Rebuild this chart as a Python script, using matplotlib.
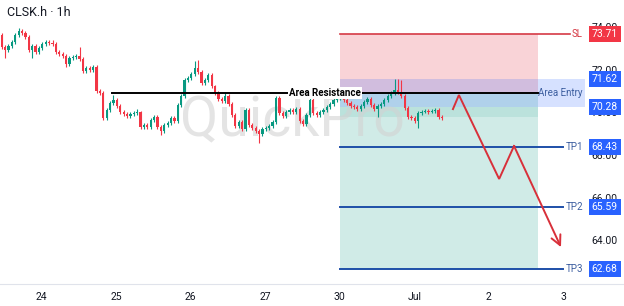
"""
CLSK.h 1h chart with short setup: SL, entry area, three take-profit levels.
Writes: out.png
"""
import matplotlib
matplotlib.use("Agg")
import matplotlib.pyplot as plt
import matplotlib.transforms as mtransforms
from matplotlib.patches import Rectangle

plt.rcParams['font.family'] = ['Roboto', 'DejaVu Sans']

TITLE = "CLSK.h · 1h"
DAY_LABELS = ["24", "25", "26", "27", "30", "Jul", "2", "3"]

# hourly candles, open of each bar = previous close
FIRST_OPEN = 73.68
CLOSES = [
    73.11, 72.97, 73.16, 73.35, 73.68, 73.86, 73.77, 73.58, 72.97, 73.16,
    72.88, 73.07, 73.25, 73.35, 73.30, 73.25, 72.88, 72.79, 72.69, 72.32,
    72.60, 72.64, 72.69, 72.55, 71.99, 72.13, 72.03, 72.18, 71.05, 70.95,
    69.78, 70.16, 70.48, 70.63, 70.34, 70.06, 69.97, 69.87, 69.97, 70.02,
    70.04, 69.36, 69.45, 69.36, 69.69, 69.83, 69.36, 69.17, 69.45, 69.55,
    69.78, 69.64, 70.39, 70.81, 71.56, 71.66, 71.85, 72.13, 71.94, 71.42,
    71.56, 71.80, 71.28, 70.95, 70.67, 70.58, 70.81, 70.44, 69.92, 69.40,
    69.59, 69.26, 70.16, 69.45, 69.31, 69.17, 69.03, 69.26, 69.31, 69.40,
    69.59, 70.72, 70.02, 69.87, 70.06, 70.16, 70.06, 70.20, 69.64, 69.50,
    69.92, 70.63, 70.02, 69.92, 70.06, 70.16, 70.30, 70.44, 70.63, 70.72,
    70.91, 70.63, 70.48, 70.34, 70.30, 70.20, 70.34, 70.53, 70.67, 70.39,
    70.20, 70.34, 70.44, 70.63, 70.81, 70.95, 71.09, 71.00, 70.81, 70.25,
    69.83, 69.78, 69.64, 70.02, 70.06, 70.11, 70.06, 70.11, 70.16, 69.83,
    69.78,
]
HIGHS = [
    73.77, 73.21, 73.25, 73.44, 73.77, 74.01, 73.96, 73.86, 73.68, 73.25,
    73.25, 73.16, 73.35, 73.44, 73.44, 73.44, 73.35, 72.97, 72.88, 72.79,
    72.69, 72.74, 72.79, 73.11, 72.64, 72.22, 72.22, 72.27, 72.27, 71.14,
    71.05, 70.25, 70.58, 70.86, 70.72, 70.44, 70.16, 70.06, 70.06, 70.11,
    70.20, 70.11, 69.55, 69.55, 69.78, 69.92, 69.92, 69.45, 69.55, 69.64,
    69.87, 69.87, 70.48, 70.91, 71.66, 71.75, 71.94, 72.46, 72.50, 72.03,
    71.66, 71.89, 71.89, 71.33, 71.05, 70.77, 70.95, 70.91, 70.53, 70.02,
    69.69, 69.69, 70.25, 70.25, 69.55, 69.40, 69.26, 69.36, 69.40, 69.50,
    69.69, 70.81, 70.81, 70.11, 70.16, 70.25, 70.25, 70.30, 70.30, 69.73,
    70.02, 70.72, 70.72, 70.11, 70.16, 70.25, 70.39, 70.53, 70.72, 70.81,
    71.00, 71.00, 70.72, 70.58, 70.44, 70.39, 70.44, 70.63, 70.77, 70.77,
    70.48, 70.44, 70.53, 70.72, 70.91, 71.05, 71.61, 71.61, 71.56, 70.91,
    70.34, 69.92, 69.87, 70.11, 70.16, 70.20, 70.20, 70.20, 70.25, 70.25,
    69.92,
]
LOWS = [
    73.02, 72.60, 72.88, 73.07, 73.25, 73.58, 73.68, 73.49, 72.88, 72.60,
    72.79, 72.79, 72.97, 73.16, 73.21, 73.16, 72.79, 72.69, 72.60, 72.18,
    72.22, 72.50, 72.55, 72.46, 71.89, 71.89, 71.94, 71.94, 70.95, 70.86,
    69.69, 69.69, 70.06, 70.39, 70.25, 69.97, 69.87, 69.78, 69.78, 69.87,
    69.92, 69.26, 69.26, 69.26, 69.26, 69.59, 69.26, 68.98, 69.08, 69.36,
    69.45, 69.55, 69.55, 70.30, 70.72, 71.47, 71.56, 71.75, 71.85, 71.33,
    71.33, 71.47, 71.19, 70.86, 70.58, 70.48, 70.48, 70.34, 69.83, 69.31,
    69.31, 69.17, 69.17, 69.36, 69.22, 69.08, 68.61, 68.94, 69.17, 69.22,
    69.31, 69.50, 69.92, 69.78, 69.78, 69.97, 69.97, 69.97, 69.55, 69.40,
    69.40, 69.83, 69.92, 69.83, 69.83, 69.97, 70.06, 70.20, 70.34, 70.53,
    70.63, 70.53, 70.39, 70.25, 70.20, 70.11, 70.11, 70.25, 70.44, 70.30,
    70.11, 69.83, 70.25, 70.34, 70.53, 70.72, 70.86, 70.91, 70.72, 70.16,
    69.73, 69.69, 69.55, 69.31, 69.92, 70.02, 69.97, 70.02, 70.02, 69.73,
    69.69,
]

SL = 73.71
ENTRY_HIGH = 71.62
ENTRY_LOW = 70.28
RESISTANCE = 70.94
TP_LEVELS = [68.43, 65.59, 62.68]
TP_NAMES = ["TP1", "TP2", "TP3"]
AXIS_PRICES = [74, 72, 70, 68, 66, 64]

# projected path (day, price)
PATH_DAYS = [5.52, 5.60, 6.14, 6.34]
PATH_PRICES = [70.20, 70.86, 66.92, 68.47]
ARROW_TIP_DAY = 6.97
ARROW_TIP_PRICE = 63.72

# layout
FIRST_BAR_DAY = -0.537
BARS_PER_DAY = 22
RES_START = 0.945
BOX_START = 4.0
BOX_END = 6.66
ENTRY_END = 7.29
LINE_END = 7.0
LABEL_X = 7.265

GREEN = "#089981"
RED = "#f23645"
BLUE = "#2962ff"
LINE_BLUE = "#1e4fa8"
SL_RED = "#d63a45"


def main():
    fig = plt.figure(figsize=(6.24, 3.06), dpi=100)
    ax = fig.add_axes([0, 22 / 306, 1, 284 / 306])
    ax.set_xlim(-0.560, 7.816)
    ax.set_ylim(61.99, 75.32)

    # watermark, above the boxes but below the candles
    ax.text(3.36, 69.7, "QuickPro", fontsize=40, color="#d2d2d2", alpha=0.6,
            ha="center", va="center", zorder=2)

    # position boxes
    ax.add_patch(Rectangle((BOX_START, RESISTANCE), BOX_END - BOX_START, SL - RESISTANCE,
                           facecolor="#f9d3d7", edgecolor="none", zorder=1))
    ax.add_patch(Rectangle((BOX_START, TP_LEVELS[-1]), BOX_END - BOX_START,
                           RESISTANCE - TP_LEVELS[-1],
                           facecolor="#d0ebe7", edgecolor="none", zorder=1))
    ax.add_patch(Rectangle((BOX_START, 69.83), BOX_END - BOX_START, ENTRY_LOW - 69.83,
                           facecolor="#089981", alpha=0.10, edgecolor="none", zorder=1.2))
    ax.add_patch(Rectangle((BOX_START, ENTRY_LOW), ENTRY_END - BOX_START,
                           ENTRY_HIGH - ENTRY_LOW,
                           facecolor=BLUE, alpha=0.19, edgecolor="none", zorder=1.5))

    # candles
    opens = [FIRST_OPEN] + CLOSES[:-1]
    for i, (o, c, h, l) in enumerate(zip(opens, CLOSES, HIGHS, LOWS)):
        x = FIRST_BAR_DAY + i / BARS_PER_DAY
        col = GREEN if c >= o else RED
        ax.plot([x, x], [l, h], color=col, lw=0.8, zorder=3, solid_capstyle="butt")
        bottom = min(o, c)
        height = max(abs(c - o), 0.03)
        ax.add_patch(Rectangle((x - 0.015, bottom), 0.03, height,
                               facecolor=col, edgecolor="none", zorder=3.5))

    # resistance line
    ax.plot([RES_START, BOX_END], [RESISTANCE, RESISTANCE], color="black", lw=1.4, zorder=4)
    ax.text(3.8, RESISTANCE, "Area Resistance", fontsize=7, fontweight="bold",
            ha="center", va="center", zorder=5,
            bbox=dict(facecolor="white", edgecolor="none", pad=0.6))

    # SL / TP lines
    ax.plot([BOX_START, 7.09], [SL, SL], color=SL_RED, lw=1.2, zorder=4)
    ax.text(LABEL_X, SL, "SL", fontsize=7, color=SL_RED, ha="right", va="center", zorder=5)
    for lvl, name in zip(TP_LEVELS, TP_NAMES):
        ax.plot([BOX_START, LINE_END], [lvl, lvl], color=LINE_BLUE, lw=1.4, zorder=4)
        ax.text(LABEL_X, lvl, name, fontsize=7, color="#3d5fa0",
                ha="right", va="center", zorder=5)
    ax.text(LABEL_X, RESISTANCE, "Area Entry", fontsize=7, color="#3d5fa0",
            ha="right", va="center", zorder=5)

    # projected path
    ax.plot(PATH_DAYS, PATH_PRICES, color="#d8303a", lw=1.4, zorder=6,
            solid_joinstyle="miter")
    ax.annotate("", xy=(ARROW_TIP_DAY, ARROW_TIP_PRICE),
                xytext=(PATH_DAYS[-1], PATH_PRICES[-1]),
                arrowprops=dict(arrowstyle="->,head_length=0.7,head_width=0.35",
                                color="#d8303a", lw=1.4, shrinkA=0, shrinkB=0),
                zorder=6)

    # price scale
    trans = mtransforms.blended_transform_factory(ax.transAxes, ax.transData)
    for p in AXIS_PRICES:
        ax.text(0.969, p, f"{p:.2f}", transform=trans, fontsize=7.5, color="#131722",
                ha="center", va="center", zorder=7)
    boxes = [(SL, RED)] + [(ENTRY_HIGH, BLUE), (ENTRY_LOW, BLUE)] + \
            [(lvl, BLUE) for lvl in TP_LEVELS]
    for p, col in boxes:
        ax.text(0.969, p, f"{p:.2f}", transform=trans, fontsize=7.5, color="white",
                ha="center", va="center", zorder=8,
                bbox=dict(facecolor=col, edgecolor="none",
                          boxstyle="square,pad=0.28"))

    # time axis
    ax.set_xticks(range(len(DAY_LABELS)))
    ax.set_xticklabels(DAY_LABELS, fontsize=7.5, color="#131722")
    ax.tick_params(axis="x", length=0, pad=6)
    ax.set_yticks([])
    for s in ["top", "left", "right"]:
        ax.spines[s].set_visible(False)
    ax.spines["bottom"].set_color("#e0e3eb")

    fig.text(7 / 624, 1 - 13 / 306, TITLE, fontsize=9, color="#131722",
             ha="left", va="center")

    fig.savefig("out.png", dpi=100)
    plt.close(fig)


if __name__ == "__main__":
    main()
